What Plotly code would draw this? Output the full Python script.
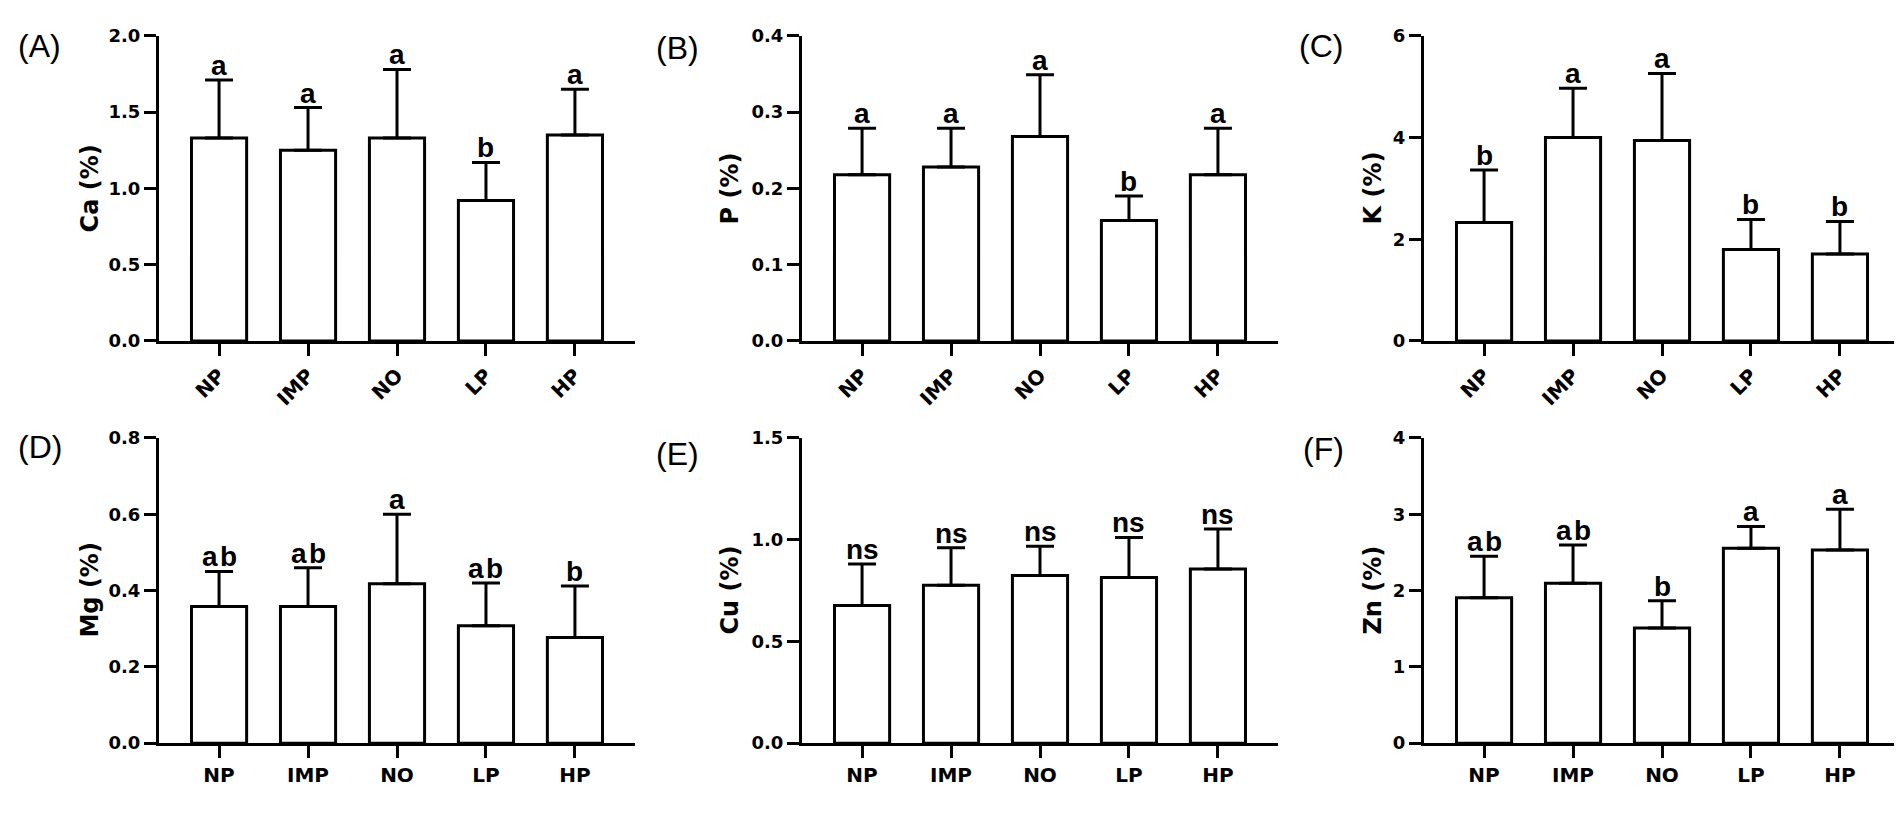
import plotly.graph_objects as go

groups = ["NP", "IMP", "NO", "LP", "HP"]

ca_mean = [1.33, 1.25, 1.33, 0.92, 1.35]
ca_err = [0.38, 0.28, 0.45, 0.25, 0.30]
ca_sig = ["a", "a", "a", "b", "a"]

p_mean = [0.218, 0.228, 0.268, 0.158, 0.218]
p_err = [0.061, 0.051, 0.081, 0.032, 0.061]
p_sig = ["a", "a", "a", "b", "a"]

k_mean = [2.33, 4.00, 3.94, 1.80, 1.71]
k_err = [1.03, 0.97, 1.32, 0.59, 0.64]
k_sig = ["b", "a", "a", "b", "b"]

mg_mean = [0.358, 0.358, 0.418, 0.308, 0.277]
mg_err = [0.092, 0.102, 0.182, 0.112, 0.135]
mg_sig = ["a\u200ab", "a\u200ab", "a", "a\u200ab", "b"]

cu_mean = [0.676, 0.776, 0.824, 0.814, 0.856]
cu_err = [0.205, 0.184, 0.144, 0.197, 0.196]
cu_sig = ["ns", "ns", "ns", "ns", "ns"]

zn_mean = [1.907, 2.097, 1.510, 2.554, 2.530]
zn_err = [0.543, 0.499, 0.355, 0.286, 0.535]
zn_sig = ["a\u200ab", "a\u200ab", "b", "a", "a"]

panel_labels = ["(A)", "(B)", "(C)", "(D)", "(E)", "(F)"]
y_titles = ["Ca (%)", "P (%)", "K (%)", "Mg (%)", "Cu (%)", "Zn (%)"]
y_max = [2.0, 0.4, 6, 0.8, 1.5, 4]
y_dtick = [0.5, 0.1, 2, 0.2, 0.5, 1]
y_fmt = [".1f", ".1f", "d", ".1f", ".1f", "d"]

means = [ca_mean, p_mean, k_mean, mg_mean, cu_mean, zn_mean]
errs = [ca_err, p_err, k_err, mg_err, cu_err, zn_err]
sigs = [ca_sig, p_sig, k_sig, mg_sig, cu_sig, zn_sig]

W, H = 1902, 815
SANS = "Liberation Sans, Arial, sans-serif"
WIDE = "DejaVu Sans, Verdana, sans-serif"

col_px = [(151, 627), (794, 1270), (1416, 1892)]
row_px = [(17.3, 330.5), (430.0, 743.3)]
title_x_px = [82, 722, 1365]
label_pos = [(8, 28), (646, 30), (1289, 28), (8, 439), (646, 446), (1293, 441)]

fig = go.Figure()
annotations = []
layout_axes = {}

for i in range(6):
    r, c = divmod(i, 3)
    n = i + 1
    xa = "x" if n == 1 else f"x{n}"
    ya = "y" if n == 1 else f"y{n}"
    fig.add_trace(go.Bar(
        x=groups, y=means[i],
        xaxis=xa, yaxis=ya,
        width=0.62,
        marker=dict(color="white", line=dict(color="black", width=3)),
        error_y=dict(type="data", array=errs[i], arrayminus=[0] * 5,
                     symmetric=False, color="black", thickness=3, width=14),
        showlegend=False,
    ))
    x0, x1 = col_px[c]
    t0, t1 = row_px[r]
    xkey = "xaxis" if n == 1 else f"xaxis{n}"
    ykey = "yaxis" if n == 1 else f"yaxis{n}"
    layout_axes[xkey] = dict(
        domain=[x0 / W, x1 / W], anchor=ya,
        range=[-0.675, 4.675], showgrid=False, zeroline=False,
        showline=True, linecolor="black", linewidth=3,
        ticks="outside", ticklen=12, tickwidth=3, tickcolor="black",
        tickangle=-45 if r == 0 else 0,
        tickfont=dict(family=WIDE, size=20, color="black", weight="bold"),
        fixedrange=True,
    )
    layout_axes[ykey] = dict(
        domain=[1 - t1 / H, 1 - t0 / H], anchor=xa,
        range=[0, y_max[i]], dtick=y_dtick[i], tick0=0,
        tickformat=y_fmt[i], showgrid=False, zeroline=False,
        showline=True, linecolor="black", linewidth=3,
        ticks="outside", ticklen=12, tickwidth=3, tickcolor="black",
        tickfont=dict(family=WIDE, size=18, color="black", weight="bold"),
        fixedrange=True,
    )
    # significance letters
    for g, m, e, s in zip(groups, means[i], errs[i], sigs[i]):
        annotations.append(dict(
            x=g, y=m + e, xref=xa, yref=ya, text=s, showarrow=False,
            yanchor="bottom", xanchor="center", yshift=-3,
            font=dict(family=SANS, size=28, color="black", weight="bold"),
        ))
    # y-axis title
    annotations.append(dict(
        x=title_x_px[c] / W, y=1 - (t0 + t1) / 2 / H, xref="paper", yref="paper",
        text=y_titles[i], textangle=-90, showarrow=False,
        xanchor="center", yanchor="middle",
        font=dict(family=WIDE, size=24, color="black", weight="bold"),
    ))
    # panel label
    lx, ly = label_pos[i]
    annotations.append(dict(
        x=lx / W, y=1 - ly / H, xref="paper", yref="paper",
        text=panel_labels[i], showarrow=False,
        xanchor="left", yanchor="middle",
        font=dict(family=SANS, size=32, color="black"),
    ))

fig.update_layout(
    width=W, height=H,
    margin=dict(l=0, r=0, t=0, b=0),
    paper_bgcolor="white", plot_bgcolor="white",
    annotations=annotations,
    **layout_axes,
)

fig.write_html("out.html")
